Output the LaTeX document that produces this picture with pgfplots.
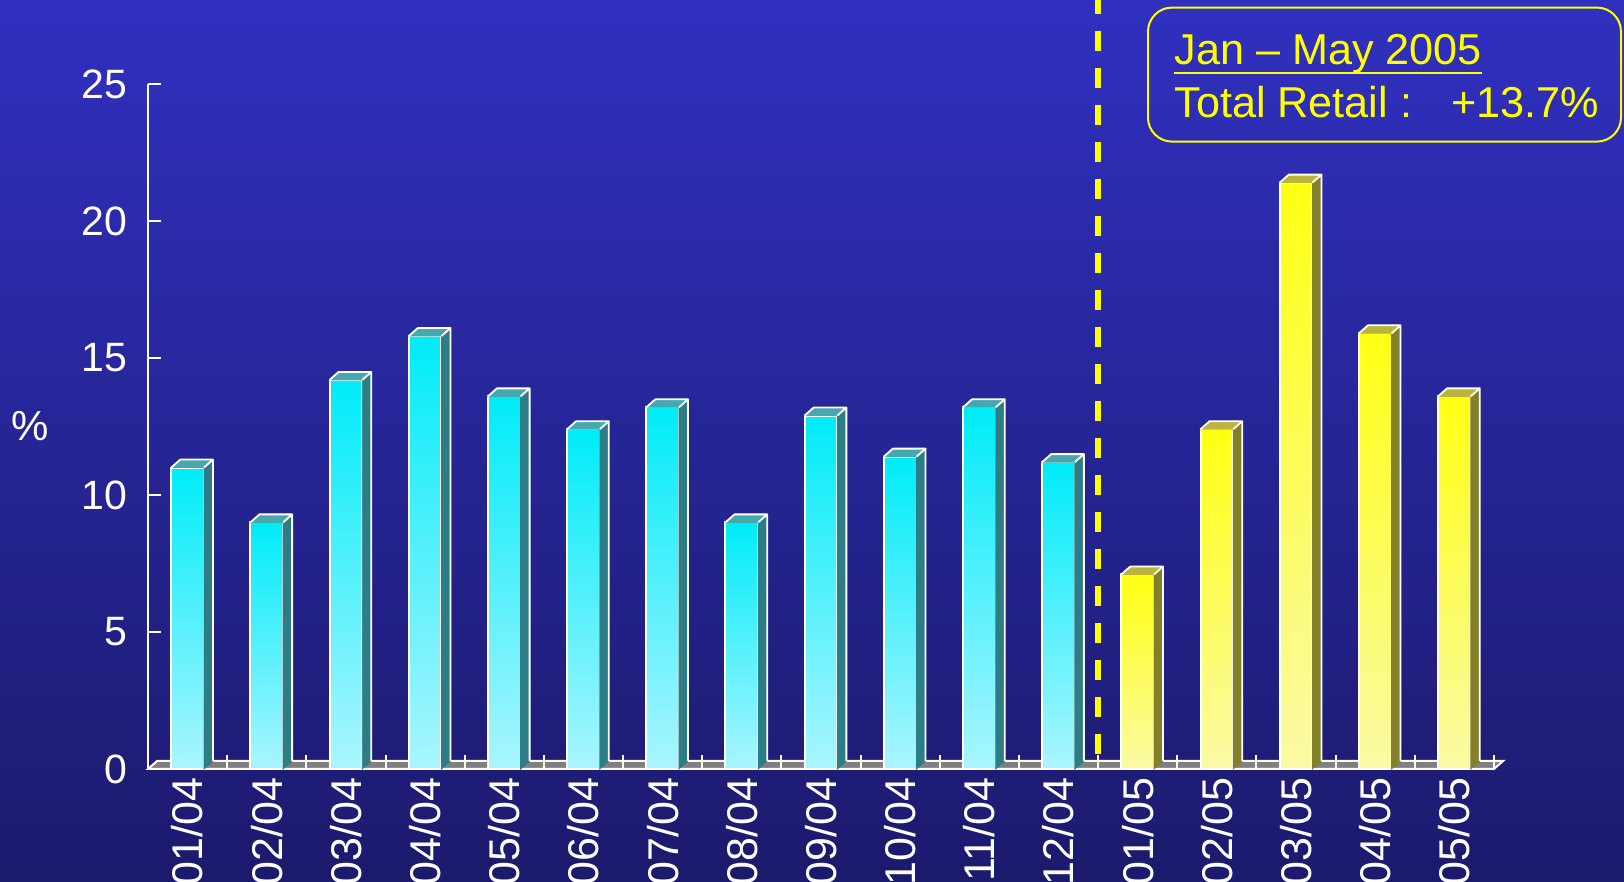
\documentclass[border=0pt]{standalone}
\usepackage{pgfplots}
\pgfplotsset{compat=1.18}
\usepackage{pgfplotstable}
\usepackage{fontspec}
\setmainfont{Liberation Sans}

\definecolor{bgtop}{RGB}{48,48,192}
\definecolor{bgbot}{RGB}{28,26,108}
\definecolor{cyanA}{RGB}{0,236,248}
\definecolor{cyanB}{RGB}{170,245,255}
\definecolor{cyanSide}{RGB}{45,125,135}
\definecolor{cyanTop}{RGB}{70,168,175}
\definecolor{yelA}{RGB}{255,255,20}
\definecolor{yelB}{RGB}{250,250,165}
\definecolor{yelSide}{RGB}{130,128,40}
\definecolor{yelTop}{RGB}{185,180,60}
\definecolor{floorgray}{RGB}{128,128,128}
\definecolor{yline}{RGB}{255,255,0}

% 2004 series
\pgfplotstableread{
x v
0 11.0
1 9.0
2 14.2
3 15.8
4 13.6
5 12.4
6 13.2
7 9.0
8 12.9
9 11.4
10 13.2
11 11.2
}\tabA
% 2005 series
\pgfplotstableread{
x v
12 7.1
13 12.4
14 21.4
15 15.9
16 13.6
}\tabB

\pgfplotsset{
  bar3d/.style n args={4}{
    only marks, scatter, mark=*, mark size=0pt,
    mark options={draw=none, fill=none},
    visualization depends on={rawy\as\barv},
    scatter/@pre marker code/.code={%
      \shade[top color=#3, bottom color=#4]
        (axis direction cs:-0.2065,-\barv) rectangle (axis direction cs:0.2065,0);
      \draw[white, line width=1pt]
        (axis direction cs:-0.2065,-\barv) rectangle (axis direction cs:0.2065,0);
      \fill[#1] (axis direction cs:0.2065,0)
        -- ([xshift=4.5pt,yshift=4pt]axis direction cs:0.2065,0)
        -- ([xshift=4.5pt,yshift=4pt]axis direction cs:0.2065,-\barv)
        -- (axis direction cs:0.2065,-\barv) -- cycle;
      \fill[#2] (axis direction cs:-0.2065,0)
        -- (axis direction cs:0.2065,0)
        -- ([xshift=4.5pt,yshift=4pt]axis direction cs:0.2065,0)
        -- ([xshift=4.5pt,yshift=4pt]axis direction cs:-0.2065,0) -- cycle;
      \draw[white, line width=0.9pt, line join=round]
        (axis direction cs:-0.2065,0)
        -- ([xshift=4.5pt,yshift=4pt]axis direction cs:-0.2065,0)
        -- ([xshift=4.5pt,yshift=4pt]axis direction cs:0.2065,0)
        -- (axis direction cs:0.2065,0)
        ([xshift=4.5pt,yshift=4pt]axis direction cs:0.2065,0)
        -- ([xshift=4.5pt,yshift=4pt]axis direction cs:0.2065,-\barv);
    },
    scatter/@post marker code/.code={},
  },
}

\begin{document}
\begin{tikzpicture}
\shade[top color=bgtop, bottom color=bgbot] (0,0) rectangle (812pt,441pt);
\begin{axis}[
  at={(74pt,56.5pt)}, anchor=south west,
  width=673pt, height=342.5pt, scale only axis,
  xmin=-0.5, xmax=16.5, ymin=0, ymax=25,
  clip=false,
  axis lines*=left,
  axis line style={white, line width=1pt},
  ytick={0,5,...,25},
  ytick align=inside,
  y tick style={white, line width=1pt},
  major tick length=6.5pt,
  xtick={0,...,16},
  xticklabels={01/04,02/04,03/04,04/04,05/04,06/04,07/04,08/04,09/04,10/04,11/04,12/04,01/05,02/05,03/05,04/05,05/05},
  x tick style={draw=none},
  tick label style={text=white},
  /pgf/number format/assume math mode=true,
  yticklabel style={font=\fontsize{20.5}{24}\selectfont, inner sep=0pt, xshift=-10pt},
  xticklabel style={font=\fontsize{21.5}{26}\selectfont, yshift=-4pt, rotate=90, anchor=east, inner sep=0pt},
  ylabel={\%},
  every axis y label/.style={at={(axis description cs:0,0.5)}, anchor=center, xshift=-59pt, font=\fontsize{21}{25}\selectfont, text=white},
]
% floor
\addplot[fill=floorgray, draw=white, line width=1pt] coordinates {(-0.5,0) (16.5,0) (16.614,0.292) (-0.386,0.292)} -- cycle;
\addplot[ycomb, white, line width=1pt, mark=none] coordinates {(0.5,0.5) (1.5,0.5) (2.5,0.5) (3.5,0.5) (4.5,0.5) (5.5,0.5) (6.5,0.5) (7.5,0.5) (8.5,0.5) (9.5,0.5) (10.5,0.5) (11.5,0.5) (12.5,0.5) (13.5,0.5) (14.5,0.5) (15.5,0.5) (16.5,0.5)};
% 2004 bars
\addplot[ybar, bar width=0.413, bar shift=0pt, draw=white, line width=1pt, fill=cyanA] table[x=x,y=v]{\tabA};
\addplot[bar3d={cyanSide}{cyanTop}{cyanA}{cyanB}] table[x=x,y=v]{\tabA};
% 2005 bars
\addplot[ybar, bar width=0.413, bar shift=0pt, draw=white, line width=1pt, fill=yelA] table[x=x,y=v]{\tabB};
\addplot[bar3d={yelSide}{yelTop}{yelA}{yelB}] table[x=x,y=v]{\tabB};
% divider
\draw[yline, line width=3pt, dash pattern=on 10pt off 8.5pt] (axis cs:11.5,28.3) -- (axis cs:11.5,0.3);
\end{axis}
% annotation box
\draw[yline, line width=1pt, rounded corners=12pt] (574pt,370.2pt) rectangle (810.5pt,437.2pt);
\node[anchor=base west, inner sep=0pt, text=yline, font=\fontsize{21.6}{26}\selectfont] (jan) at (587pt,408.5pt) {Jan -- May 2005};
\draw[yline, line width=1.4pt] ([yshift=-4pt]jan.base west) -- ([yshift=-4pt]jan.base east);
\node[anchor=base west, inner sep=0pt, text=yline, font=\fontsize{21.6}{26}\selectfont] at (587pt,382pt) {Total Retail :};
\node[anchor=base east, inner sep=0pt, text=yline, font=\fontsize{21.6}{26}\selectfont] at (799.7pt,382pt) {+13.7\%};
\pgfresetboundingbox
\useasboundingbox (0,0) rectangle (812pt,441pt);
\end{tikzpicture}
\end{document}
